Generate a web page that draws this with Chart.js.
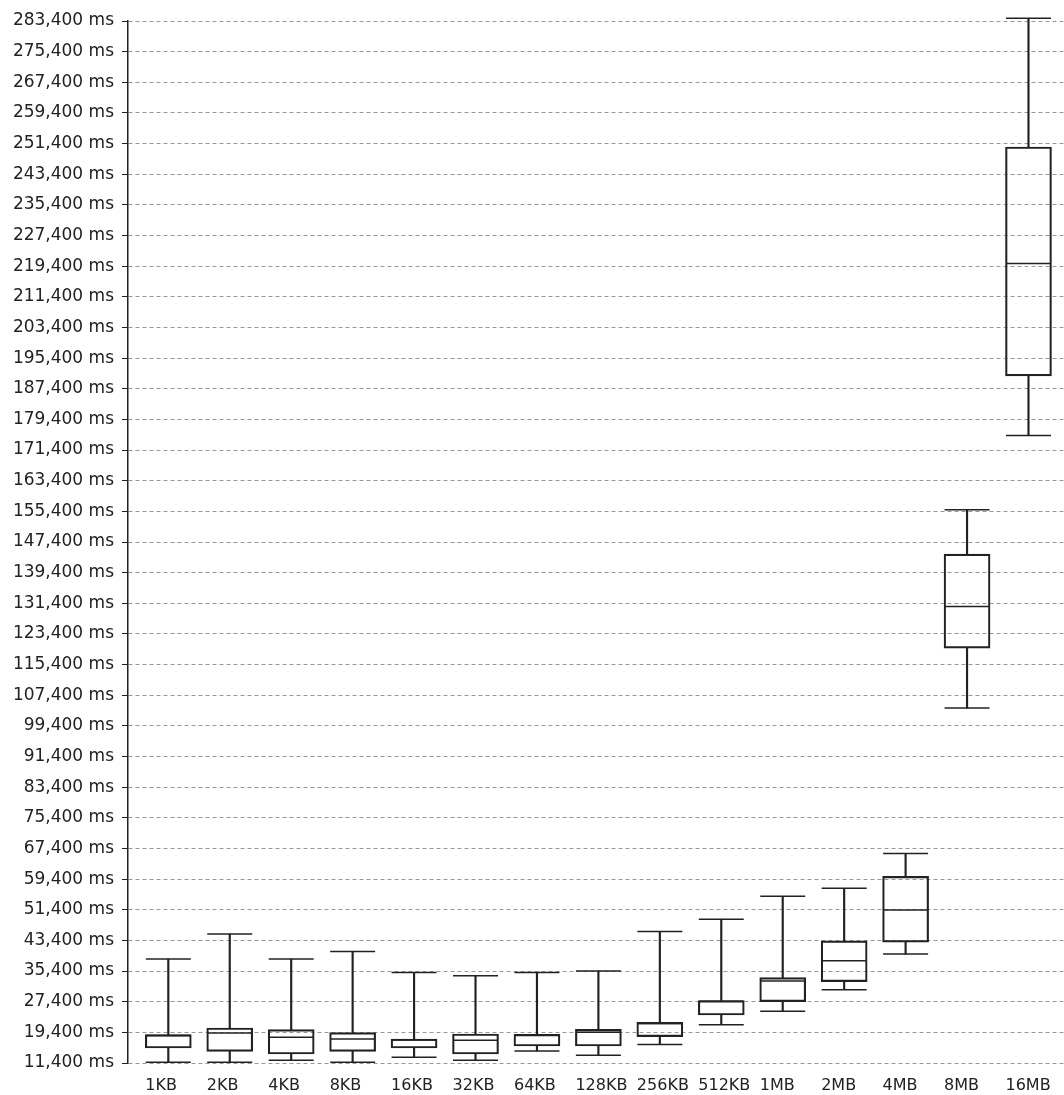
<!DOCTYPE html>
<html>
<head>
<meta charset="utf-8">
<script src="https://cdn.jsdelivr.net/npm/chart.js@4/dist/chart.umd.min.js"></script>
<style>
  html, body { margin: 0; padding: 0; background: #fff; }
  #wrap { width: 1064px; height: 1095px; }
</style>
</head>
<body>
<div id="wrap"><canvas id="boxChart"></canvas></div>
<script>
// カテゴリ (ファイルサイズ)
const sizes = ['1KB', '2KB', '4KB', '8KB', '16KB', '32KB', '64KB', '128KB', '256KB', '512KB', '1MB', '2MB', '4MB', '8MB', '16MB'];

// 箱ひげ図の値 (ms)
const mins    = [11570, 11570, 12100, 11570, 12880, 12100, 14530, 13400, 16260, 21400, 24920, 30550, 39830, 104040, 175180];
const q1s     = [15310, 14440, 13750, 14440, 15310, 13750, 15830, 15830, 18300, 23930, 27430, 32630, 42950, 119700, 190760];
const medians = [18550, 19230, 18100, 17660, 17400, 17310, 18620, 19400, 21730, 27550, 32810, 38090, 51350, 130560, 220070];
const q3s     = [18800, 20530, 20100, 19310, 17660, 18970, 18880, 20180, 21990, 27700, 33670, 43290, 60110, 144230, 250520];
const maxs    = [38530, 45050, 38530, 40530, 35050, 34180, 35050, 35400, 45740, 48930, 54910, 56990, 66090, 155800, 284100];

// y軸の目盛り
const yMin = 11400;
const yMax = 283400;
const yStep = 8000;

const lineColor = '#222';
const lineW = 1.5;
const boxW = 46;

const ctx = document.getElementById('boxChart').getContext('2d');

new Chart(ctx, {
    type: 'bar',
    data: {
        datasets: [
            {
                // 下側のひげ
                data: sizes.map((s, i) => ({x: i, y: [mins[i], q1s[i]]})),
                backgroundColor: lineColor,
                barThickness: lineW,
                grouped: false,
                clip: false
            },
            {
                // 上側のひげ
                data: sizes.map((s, i) => ({x: i, y: [q3s[i], maxs[i]]})),
                backgroundColor: lineColor,
                barThickness: lineW,
                grouped: false,
                clip: false
            },
            {
                // 箱
                data: sizes.map((s, i) => ({x: i, y: [q1s[i], q3s[i]]})),
                backgroundColor: 'rgba(0,0,0,0)',
                borderColor: lineColor,
                borderWidth: lineW,
                borderSkipped: false,
                barThickness: boxW,
                grouped: false,
                clip: false
            },
            {
                // ひげの端
                type: 'scatter',
                data: sizes.map((s, i) => ({x: i, y: mins[i]})).concat(sizes.map((s, i) => ({x: i, y: maxs[i]}))),
                pointStyle: 'line',
                pointRadius: boxW / 2 - 0.5,
                pointHoverRadius: boxW / 2 - 0.5,
                borderColor: lineColor,
                borderWidth: lineW,
                clip: false
            },
            {
                // 中央値
                type: 'scatter',
                data: sizes.map((s, i) => ({x: i, y: medians[i]})),
                pointStyle: 'line',
                pointRadius: boxW / 2 - 1,
                pointHoverRadius: boxW / 2 - 1,
                borderColor: lineColor,
                borderWidth: lineW,
                clip: false
            }
        ]
    },
    options: {
        responsive: true,
        maintainAspectRatio: false,
        animation: false,
        layout: {
            autoPadding: false,
            padding: {top: 21, right: 0, bottom: 0, left: 0}
        },
        plugins: {
            legend: {display: false},
            tooltip: {enabled: false}
        },
        scales: {
            x: {
                type: 'linear',
                min: -0.656,
                max: 14.578,
                offset: false,
                grid: {display: false, drawTicks: false, tickLength: 0, offset: false},
                border: {display: false},
                afterBuildTicks: scale => {
                    // ラベルを箱の左端に揃える
                    scale.ticks = sizes.map((s, i) => ({value: i - 0.374}));
                },
                afterFit: scale => {
                    scale.height = 32;
                    scale.paddingLeft = 0;
                    scale.paddingRight = 0;
                },
                ticks: {
                    autoSkip: false,
                    maxRotation: 0,
                    align: 'start',
                    padding: 13,
                    color: '#222',
                    font: {family: 'DejaVu Sans', size: 16},
                    callback: (v, i) => sizes[i]
                }
            },
            y: {
                min: yMin,
                max: yMax,
                beginAtZero: false,
                afterFit: scale => { scale.width = 128; },
                grid: {
                    color: '#999',
                    lineWidth: 1,
                    tickColor: '#222',
                    tickLength: 6,
                    tickBorderDash: []
                },
                border: {
                    display: true,
                    color: '#222',
                    width: 1.5,
                    dash: [4, 3]
                },
                ticks: {
                    stepSize: yStep,
                    padding: 8,
                    autoSkip: false,
                    color: '#222',
                    font: {family: 'DejaVu Sans', size: 17},
                    callback: v => v.toLocaleString('en-US') + ' ms'
                }
            }
        }
    }
});
</script>
</body>
</html>
